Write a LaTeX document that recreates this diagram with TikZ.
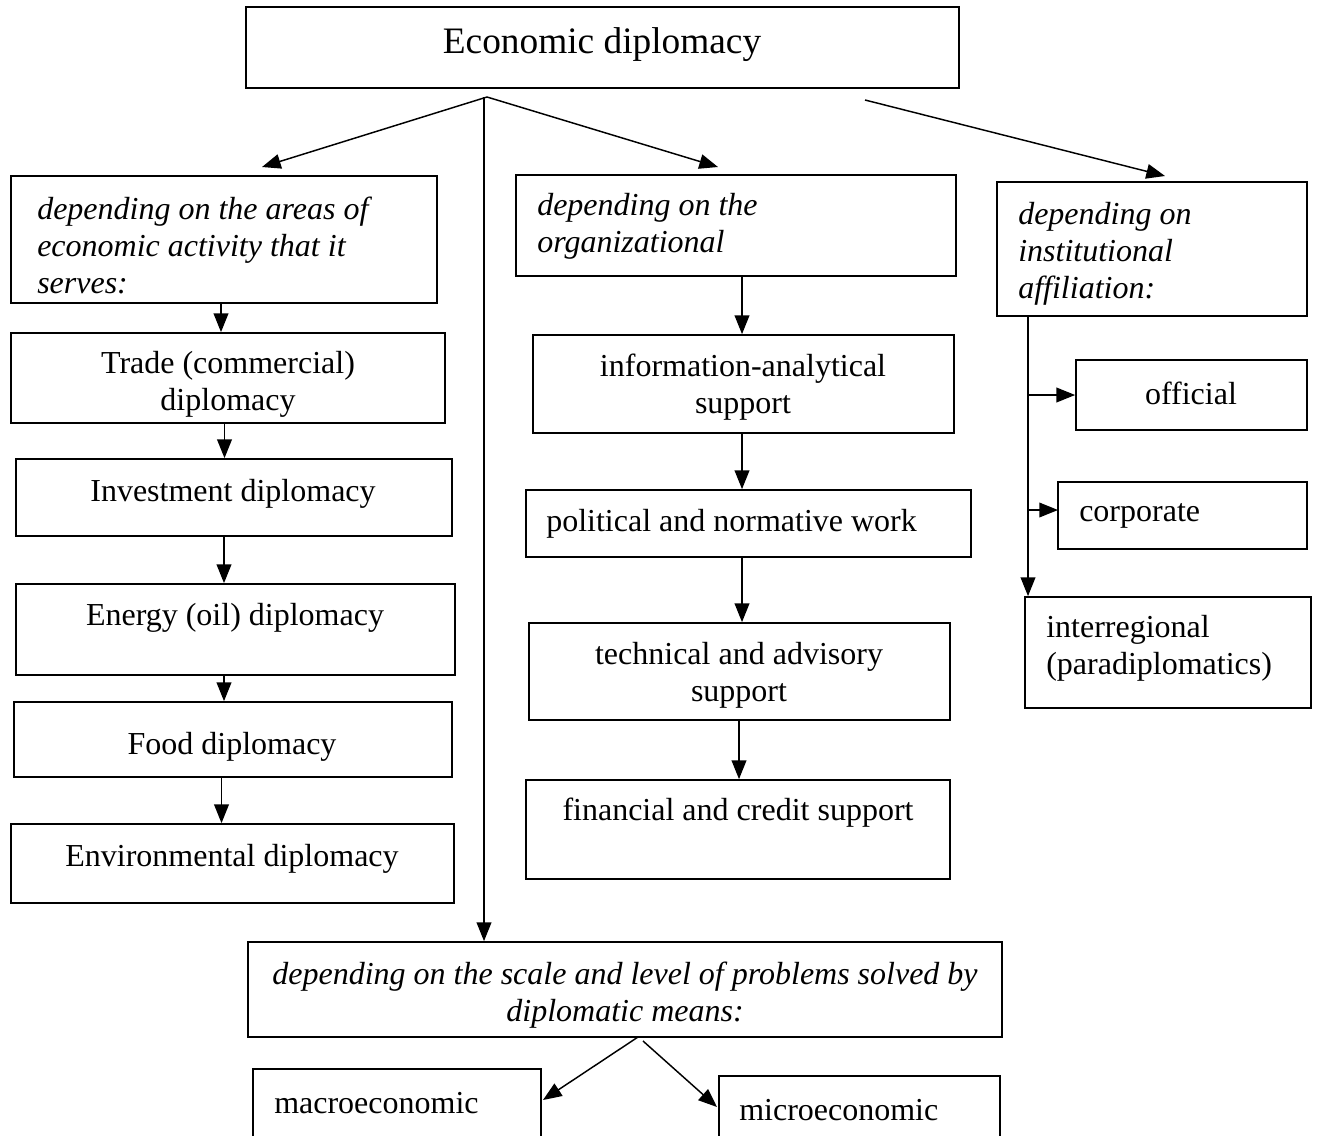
\documentclass[tikz,border=0pt]{standalone}
\usepackage{fontspec}
\setmainfont{Liberation Serif}
\usetikzlibrary{arrows.meta,fit}
\begin{document}
\begin{tikzpicture}[x=0.75pt,y=-0.75pt,
  box/.style={draw, line width=1.3pt, inner sep=0pt, fit={#1}},
  txt/.style={font=\fontsize{24}{27.75}\selectfont, inner sep=0pt},
  ital/.style={font=\fontsize{24}{27.75}\selectfont\itshape, inner sep=0pt, align=left, anchor=west},
  arr/.style={-{Triangle[length=14pt,width=11pt]}, line width=1.1pt}]
\useasboundingbox (0,0) rectangle (1319,1135);
\clip (0,0) rectangle (1319,1135);
% boxes
\node[box={(246,7) (959,88)}] (top) {};
\node[box={(11,176) (437,303)}] (h1) {};
\node[box={(11,333) (445,423)}] (trade) {};
\node[box={(16,459) (452,536)}] (inv) {};
\node[box={(16,584) (455,675)}] (energy) {};
\node[box={(14,702) (452,777)}] (food) {};
\node[box={(11,824) (454,903)}] (env) {};
\node[box={(516,175) (956,276)}] (h2) {};
\node[box={(533,335) (954,433)}] (info) {};
\node[box={(526,490) (971,557)}] (pol) {};
\node[box={(529,623) (950,720)}] (tech) {};
\node[box={(526,780) (950,879)}] (fin) {};
\node[box={(997,182) (1307,316)}] (h3) {};
\node[box={(1076,360) (1307,430)}] (off) {};
\node[box={(1058,482) (1307,549)}] (corp) {};
\node[box={(1025,597) (1311,708)}] (inter) {};
\node[box={(248,942) (1002,1037)}] (h4) {};
\node[box={(253,1069) (541,1150)}] (macro) {};
\node[box={(719,1076) (1000,1150)}] (micro) {};
% texts
\node[font=\fontsize{28}{32}\selectfont, inner sep=0pt] (topt) at (602,45) {Economic diplomacy};
\node[ital] (h1t) at (37,245) {depending on the areas of\\economic activity that it\\serves:};
\node[txt, align=center] (tradet) at (228,384.5) {Trade (commercial)\\diplomacy};
\node[txt] (invt) at (233,494) {Investment diplomacy};
\node[txt] (energyt) at (235,618) {Energy (oil) diplomacy};
\node[txt] (foodt) at (232,747) {Food diplomacy};
\node[txt] (envt) at (232,859) {Environmental diplomacy};
\node[ital] (h2t) at (537,226.5) {depending on the\\organizational};
\node[txt, align=center] (infot) at (743,387) {information-analytical\\support};
\node[txt, anchor=west] (polt) at (546,523.5) {political and normative work};
\node[txt, align=center] (techt) at (739,675.5) {technical and advisory\\support};
\node[txt] (fint) at (738,812.5) {financial and credit support};
\node[ital] (h3t) at (1018,254) {depending on\\institutional\\affiliation:};
\node[txt] (offt) at (1191,393.5) {official};
\node[txt, anchor=west] (corpt) at (1079,515.5) {corporate};
\node[txt, anchor=west, align=left] (intert) at (1046,648.5) {interregional\\(paradiplomatics)};
\node[font=\fontsize{24}{27.75}\selectfont\itshape, inner sep=0pt, align=center] (h4t) at (625,995) {depending on the scale and level of problems solved by\\diplomatic means:};
\node[txt, anchor=west] (macrot) at (274,1103.5) {macroeconomic};
\node[txt, anchor=west] (microt) at (739,1110.5) {microeconomic};
% coordinates
\coordinate (o) at (487,97);
\coordinate (ov) at (484,97);
\coordinate (o2) at (865,100);
\coordinate (t1) at (262,167);
\coordinate (t2) at (718,167);
\coordinate (t3) at (1165,176);
\coordinate (L1) at (221,0);
\coordinate (L2) at (224.5,0);
\coordinate (L3) at (224,0);
\coordinate (L4) at (221.5,0);
\coordinate (M1) at (742,0);
\coordinate (M2) at (739,0);
\coordinate (R) at (1028,0);
\coordinate (b1) at (638,1037);
\coordinate (b2) at (643,1041);
\coordinate (mt) at (543,1100);
\coordinate (mit) at (717,1107);
\coordinate (ct) at (1058,510);
% connectors
\draw[arr] (o) -- (t1);
\draw[arr] (o) -- (t2);
\draw[arr] (ov) -- (h4.north -| ov);
\draw[arr] (o2) -- (t3);
\draw[arr] (h1.south -| L1) -- (trade.north -| L1);
\draw[arr] (trade.south -| L2) -- (inv.north -| L2);
\draw[arr] (inv.south -| L3) -- (energy.north -| L3);
\draw[arr] (energy.south -| L3) -- (food.north -| L3);
\draw[arr] (food.south -| L4) -- (env.north -| L4);
\draw[arr] (h2.south -| M1) -- (info.north -| M1);
\draw[arr] (info.south -| M1) -- (pol.north -| M1);
\draw[arr] (pol.south -| M1) -- (tech.north -| M1);
\draw[arr] (tech.south -| M2) -- (fin.north -| M2);
\draw[arr] (h3.south -| R) -- (inter.north -| R);
\draw[arr] (R |- off.west) -- (off.west);
\draw[arr] (R |- ct) -- (ct);
\draw[arr] (b1) -- (mt);
\draw[arr] (b2) -- (mit);
\end{tikzpicture}
\end{document}
